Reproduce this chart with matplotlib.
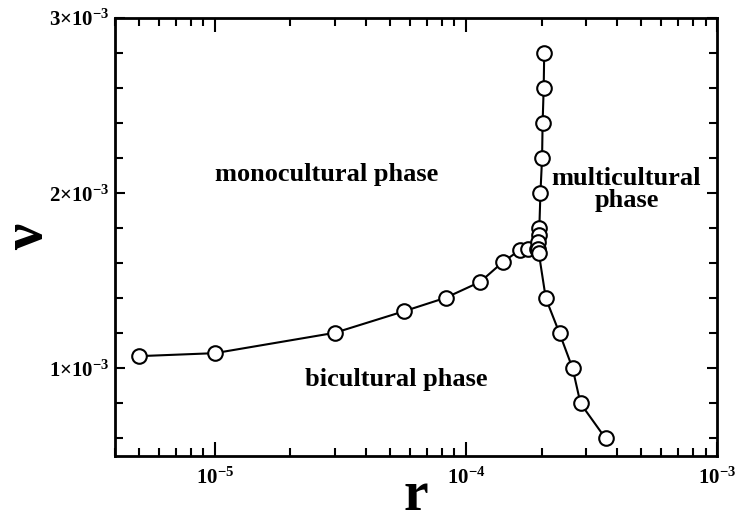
import math
import matplotlib
matplotlib.use("Agg")
import matplotlib.pyplot as plt
from matplotlib.ticker import FixedLocator, FuncFormatter, LogLocator, NullFormatter, MultipleLocator

plt.rcParams['font.family'] = ['Liberation Serif', 'DejaVu Serif']
plt.rcParams['font.weight'] = 'bold'
plt.rcParams['mathtext.fontset'] = 'custom'
plt.rcParams['mathtext.rm'] = 'Liberation Serif:bold'
plt.rcParams['mathtext.bf'] = 'Liberation Serif:bold'
plt.rcParams['mathtext.it'] = 'Liberation Serif:bold'

# Left (bicultural/monocultural) boundary
r_left = [5.0e-6, 1.0e-5, 3.0e-5, 5.66e-5, 8.3e-5, 1.14e-4, 1.40e-4, 1.64e-4, 1.77e-4, 1.91e-4]
v_left = [1.07e-3, 1.087e-3, 1.203e-3, 1.326e-3, 1.403e-3, 1.494e-3, 1.606e-3, 1.676e-3, 1.68e-3, 1.68e-3]

# Multicultural boundary
r_multi = [2.05e-4, 2.04e-4, 2.02e-4, 2.01e-4, 1.98e-4, 1.96e-4, 1.95e-4, 1.94e-4, 1.93e-4, 1.95e-4,
           2.08e-4, 2.36e-4, 2.66e-4, 2.86e-4, 3.6e-4]
v_multi = [2.8e-3, 2.6e-3, 2.4e-3, 2.2e-3, 2.0e-3, 1.8e-3, 1.76e-3, 1.72e-3, 1.68e-3, 1.66e-3,
           1.4e-3, 1.2e-3, 1.0e-3, 0.8e-3, 0.6e-3]

y_major = [1e-3, 2e-3, 3e-3]
x_major = [1e-5, 1e-4, 1e-3]

fig = plt.figure(figsize=(7.38, 5.23), dpi=100)
ax = fig.add_axes([115/738, 1-456/523, (717-115)/738, (456-18)/523])

style = dict(color='black', lw=1.5, marker='o', markersize=10.5,
             markerfacecolor='white', markeredgecolor='black', markeredgewidth=1.5)
ax.plot(r_left, v_left, **style)
ax.plot(r_multi, v_multi, **style)

ax.set_xscale('log')
ax.set_xlim(4e-6, 1e-3)
ax.set_ylim(0.5e-3, 3e-3)

ax.xaxis.set_major_locator(FixedLocator(x_major))
ax.xaxis.set_minor_locator(LogLocator(base=10, subs=range(2, 10), numticks=20))
ax.xaxis.set_minor_formatter(NullFormatter())

def xfmt(x, pos):
    e = int(round(math.log10(x)))
    return r'$10^{%d}$' % e
ax.xaxis.set_major_formatter(FuncFormatter(xfmt))

ax.yaxis.set_major_locator(FixedLocator(y_major))
ax.yaxis.set_minor_locator(MultipleLocator(0.2e-3))
def yfmt(y, pos):
    return r'$%d{\times}10^{-3}$' % int(round(y * 1e3))
ax.yaxis.set_major_formatter(FuncFormatter(yfmt))

ax.tick_params(which='both', direction='in', top=True, right=True, width=1.5,
               labelsize=15)
ax.tick_params(axis='x', which='major', length=10, pad=8)
ax.tick_params(axis='x', which='minor', length=6)
ax.tick_params(axis='y', which='major', length=7, pad=4)
ax.tick_params(axis='y', which='minor', length=6)

for s in ax.spines.values():
    s.set_linewidth(2)

ax.set_xlabel('r', fontsize=40, fontweight='bold', va='bottom')
ax.xaxis.set_label_coords(0.5, (456 - 522) / 438)
ax.set_ylabel('ν', fontsize=42, fontweight='bold', va='center')
ax.yaxis.set_label_coords((28 - 115) / 602, 0.5)

ax.text(2.79e-5, 2.108e-3, 'monocultural phase', fontsize=19, fontweight='bold',
        ha='center', va='center')
ax.text(5.26e-5, 0.934e-3, 'bicultural phase', fontsize=19, fontweight='bold',
        ha='center', va='center')
ax.text(4.36e-4, 2.023e-3, 'multicultural\nphase', fontsize=19, fontweight='bold',
        ha='center', va='center', linespacing=0.95)

fig.savefig('out.png', dpi=100)
